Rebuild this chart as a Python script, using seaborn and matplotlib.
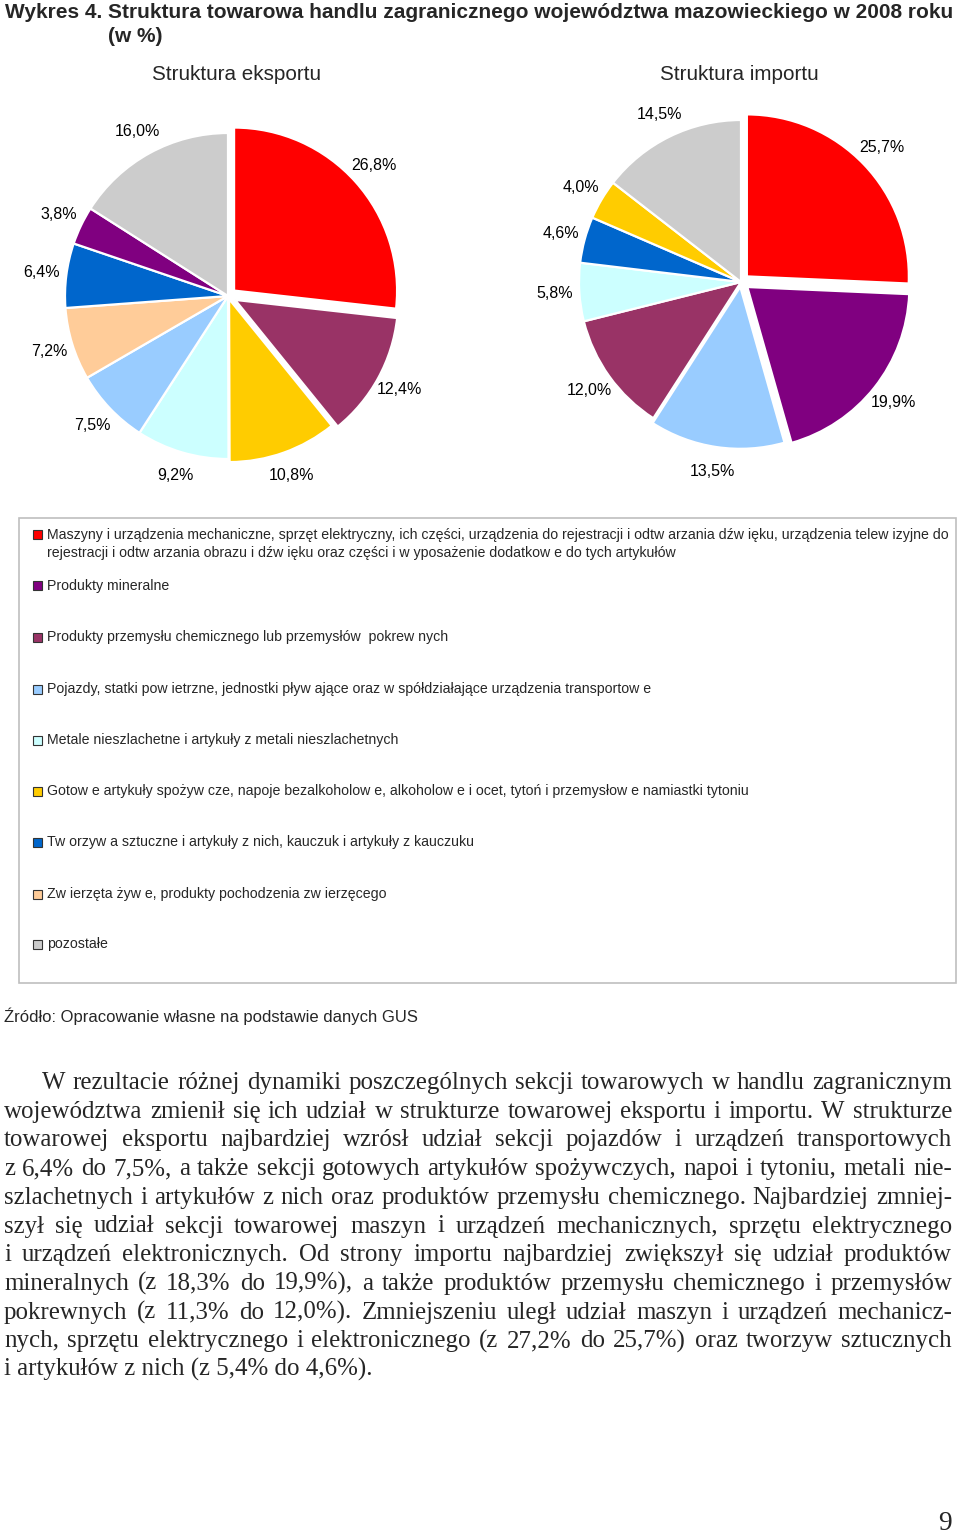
import matplotlib
matplotlib.use("Agg")
import matplotlib.pyplot as plt
import seaborn as sns
from matplotlib import font_manager
from matplotlib.patches import Rectangle

# Data
KEYS = ["maszyny", "mineralne", "chemia", "pojazdy", "metale",
        "spozywcze", "tworzywa", "zwierzeta", "pozostale"]
LEGEND_LABELS = [
    "Maszyny i urządzenia mechaniczne, sprzęt elektryczny, ich części, urządzenia do rejestracji i odtw arzania dźw ięku, urządzenia telew izyjne do\n"
    "rejestracji i odtw arzania obrazu i dźw ięku oraz części i w yposażenie dodatkow e do tych artykułów",
    "Produkty mineralne",
    "Produkty przemysłu chemicznego lub przemysłów  pokrew nych",
    "Pojazdy, statki pow ietrzne, jednostki pływ ające oraz w spółdziałające urządzenia transportow e",
    "Metale nieszlachetne i artykuły z metali nieszlachetnych",
    "Gotow e artykuły spożyw cze, napoje bezalkoholow e, alkoholow e i ocet, tytoń i przemysłow e namiastki tytoniu",
    "Tw orzyw a sztuczne i artykuły z nich, kauczuk i artykuły z kauczuku",
    "Zw ierzęta żyw e, produkty pochodzenia zw ierzęcego",
    "pozostałe",
]
HEX_COLORS = ["#FF0000", "#800080", "#993366", "#99CCFF", "#CCFFFF",
              "#FFCC00", "#0066CC", "#FFCC99", "#CCCCCC"]

EXPORT_ORDER = ["maszyny", "chemia", "spozywcze", "metale", "pojazdy",
                "zwierzeta", "tworzywa", "mineralne", "pozostale"]
EXPORT_VALUES = [26.8, 12.4, 10.8, 9.2, 7.5, 7.2, 6.4, 3.8, 16.0]

IMPORT_ORDER = ["maszyny", "mineralne", "pojazdy", "chemia", "metale",
                "tworzywa", "spozywcze", "pozostale"]
IMPORT_VALUES = [25.7, 19.9, 13.5, 12.0, 5.8, 4.6, 4.0, 14.5]

TITLE_LEAD = "Wykres 4."
TITLE_MAIN = "Struktura towarowa handlu zagranicznego województwa mazowieckiego w 2008 roku"
TITLE_SUB = "(w %)"
PIE_TITLES = ["Struktura eksportu", "Struktura importu"]
SOURCE = "Źródło: Opracowanie własne na podstawie danych GUS"
BODY_LINES = [
    "W rezultacie różnej dynamiki poszczególnych sekcji towarowych w handlu zagranicznym",
    "województwa zmienił się ich udział w strukturze towarowej eksportu i importu. W strukturze",
    "towarowej eksportu najbardziej wzrósł udział sekcji pojazdów i urządzeń transportowych",
    "z 6,4% do 7,5%, a także sekcji gotowych artykułów spożywczych, napoi i tytoniu, metali nie-",
    "szlachetnych i artykułów z nich oraz produktów przemysłu chemicznego. Najbardziej zmniej-",
    "szył się udział sekcji towarowej maszyn i urządzeń mechanicznych, sprzętu elektrycznego",
    "i urządzeń elektronicznych. Od strony importu najbardziej zwiększył się udział produktów",
    "mineralnych (z 18,3% do 19,9%), a także produktów przemysłu chemicznego i przemysłów",
    "pokrewnych (z 11,3% do 12,0%). Zmniejszeniu uległ udział maszyn i urządzeń mechanicz-",
    "nych, sprzętu elektrycznego i elektronicznego (z 27,2% do 25,7%) oraz tworzyw sztucznych",
    "i artykułów z nich (z 5,4% do 4,6%).",
]
PAGE_NUMBER = "9"

# Setup
sns.set_theme(style="white")
plt.rcParams["font.family"] = ["Liberation Sans", "DejaVu Sans"]
names = {f.name for f in font_manager.fontManager.ttflist}
NARROW = "Liberation Sans Narrow" if "Liberation Sans Narrow" in names else "Liberation Sans"
SANS = "Liberation Sans"
SERIF = "Liberation Serif"

palette = dict(zip(KEYS, sns.color_palette(HEX_COLORS)))

W, H = 960, 1534
fig = plt.figure(figsize=(W / 100, H / 100), dpi=100)
fig.patch.set_facecolor("white")
renderer = fig.canvas.get_renderer()


def fx(px):
    return px / W


def fy(py):
    return 1 - py / H


def fit(t, width):
    w = t.get_window_extent(renderer).width
    t.set_fontsize(t.get_fontsize() * width / w)
    return t.get_fontsize()


# Titles
t = fig.text(fx(108), fy(12), TITLE_MAIN, family=[NARROW, SANS], weight="bold", va="center", fontsize=14)
tsize = fit(t, 844)
fig.text(fx(5), fy(12), TITLE_LEAD, family=[NARROW, SANS], weight="bold", va="center", fontsize=tsize)
fig.text(fx(108), fy(36), TITLE_SUB, family=[NARROW, SANS], weight="bold", va="center", fontsize=tsize)

t = fig.text(fx(236), fy(75), PIE_TITLES[0], family=[NARROW, SANS], ha="center", va="center", fontsize=14)
ssize = fit(t, 170)
fig.text(fx(739), fy(75), PIE_TITLES[1], family=[NARROW, SANS], ha="center", va="center", fontsize=ssize)


# Pies
def draw_pie(cx, cy, r, order, values, explode):
    lim = 1.3
    half = lim * r
    ax = fig.add_axes([fx(cx - half), fy(cy + half), 2 * half / W, 2 * half / H])
    labels = [f"{v:.1f}%".replace(".", ",") for v in values]
    wedges, texts = ax.pie(
        values, colors=[palette[k] for k in order], labels=labels,
        startangle=90, counterclock=False, labeldistance=1.15,
        explode=[explode.get(k, 0) for k in order],
        wedgeprops=dict(edgecolor="white", linewidth=1.6),
        textprops=dict(fontsize=11.5, family=SANS, color="black"),
    )
    for txt in texts:
        txt.set_ha("center")
        txt.set_va("center")
    ax.set_xlim(-lim, lim)
    ax.set_ylim(-lim, lim)
    ax.set_aspect("equal")
    ax.axis("off")


draw_pie(228, 296, 163, EXPORT_ORDER, EXPORT_VALUES,
         {"maszyny": 0.05, "chemia": 0.05, "spozywcze": 0.02})
draw_pie(741, 282, 162, IMPORT_ORDER, IMPORT_VALUES,
         {"maszyny": 0.05, "mineralne": 0.05, "pojazdy": 0.03})

# Legend box
fig.add_artist(Rectangle((fx(19), fy(983)), (956 - 19) / W, (983 - 518) / H,
                         transform=fig.transFigure, facecolor="white",
                         edgecolor="#BFBFBF", linewidth=1.2))
entry_y = [535, 586, 637, 689, 740, 791, 842, 894, 944]
first_line = LEGEND_LABELS[0].split("\n")
t = fig.text(fx(47), fy(535), first_line[0], family=SANS, va="center", fontsize=9)
lsize = fit(t, 900)
fig.text(fx(47), fy(553), first_line[1], family=SANS, va="center", fontsize=lsize)
for i, (key, label) in enumerate(zip(KEYS, LEGEND_LABELS)):
    y = entry_y[i]
    fig.add_artist(Rectangle((fx(33), fy(y + 4.5)), 9 / W, 9 / H, transform=fig.transFigure,
                             facecolor=palette[key], edgecolor="#333333", linewidth=0.8))
    if i > 0:
        fig.text(fx(47), fy(y), label, family=SANS, va="center", fontsize=lsize)

# Source
t = fig.text(fx(4), fy(1016), SOURCE, family=SANS, va="center", fontsize=12)
fit(t, 414)

# Body text, justified
t = fig.text(fx(4), fy(1089 + 28.7 * 10), BODY_LINES[-1], family=SERIF, va="baseline", fontsize=14)
bsize = fit(t, 368)


def justify(line, x0, x1, y):
    words = line.split()
    arts = [fig.text(0, fy(y), w, family=SERIF, va="baseline", fontsize=bsize) for w in words]
    widths = [a.get_window_extent(renderer).width for a in arts]
    gap = (x1 - x0 - sum(widths)) / (len(words) - 1)
    x = x0
    for a, w in zip(arts, widths):
        a.set_x(fx(x))
        x += w + gap
    return gap


for i, line in enumerate(BODY_LINES[:-1]):
    x0 = 42 if i == 0 else 4
    justify(line, x0, 952, 1089 + 28.7 * i)

fig.text(fx(945), fy(1523), PAGE_NUMBER, family=SERIF, ha="center", va="center", fontsize=bsize * 1.1)

fig.savefig("out.png", dpi=100, facecolor="white")
